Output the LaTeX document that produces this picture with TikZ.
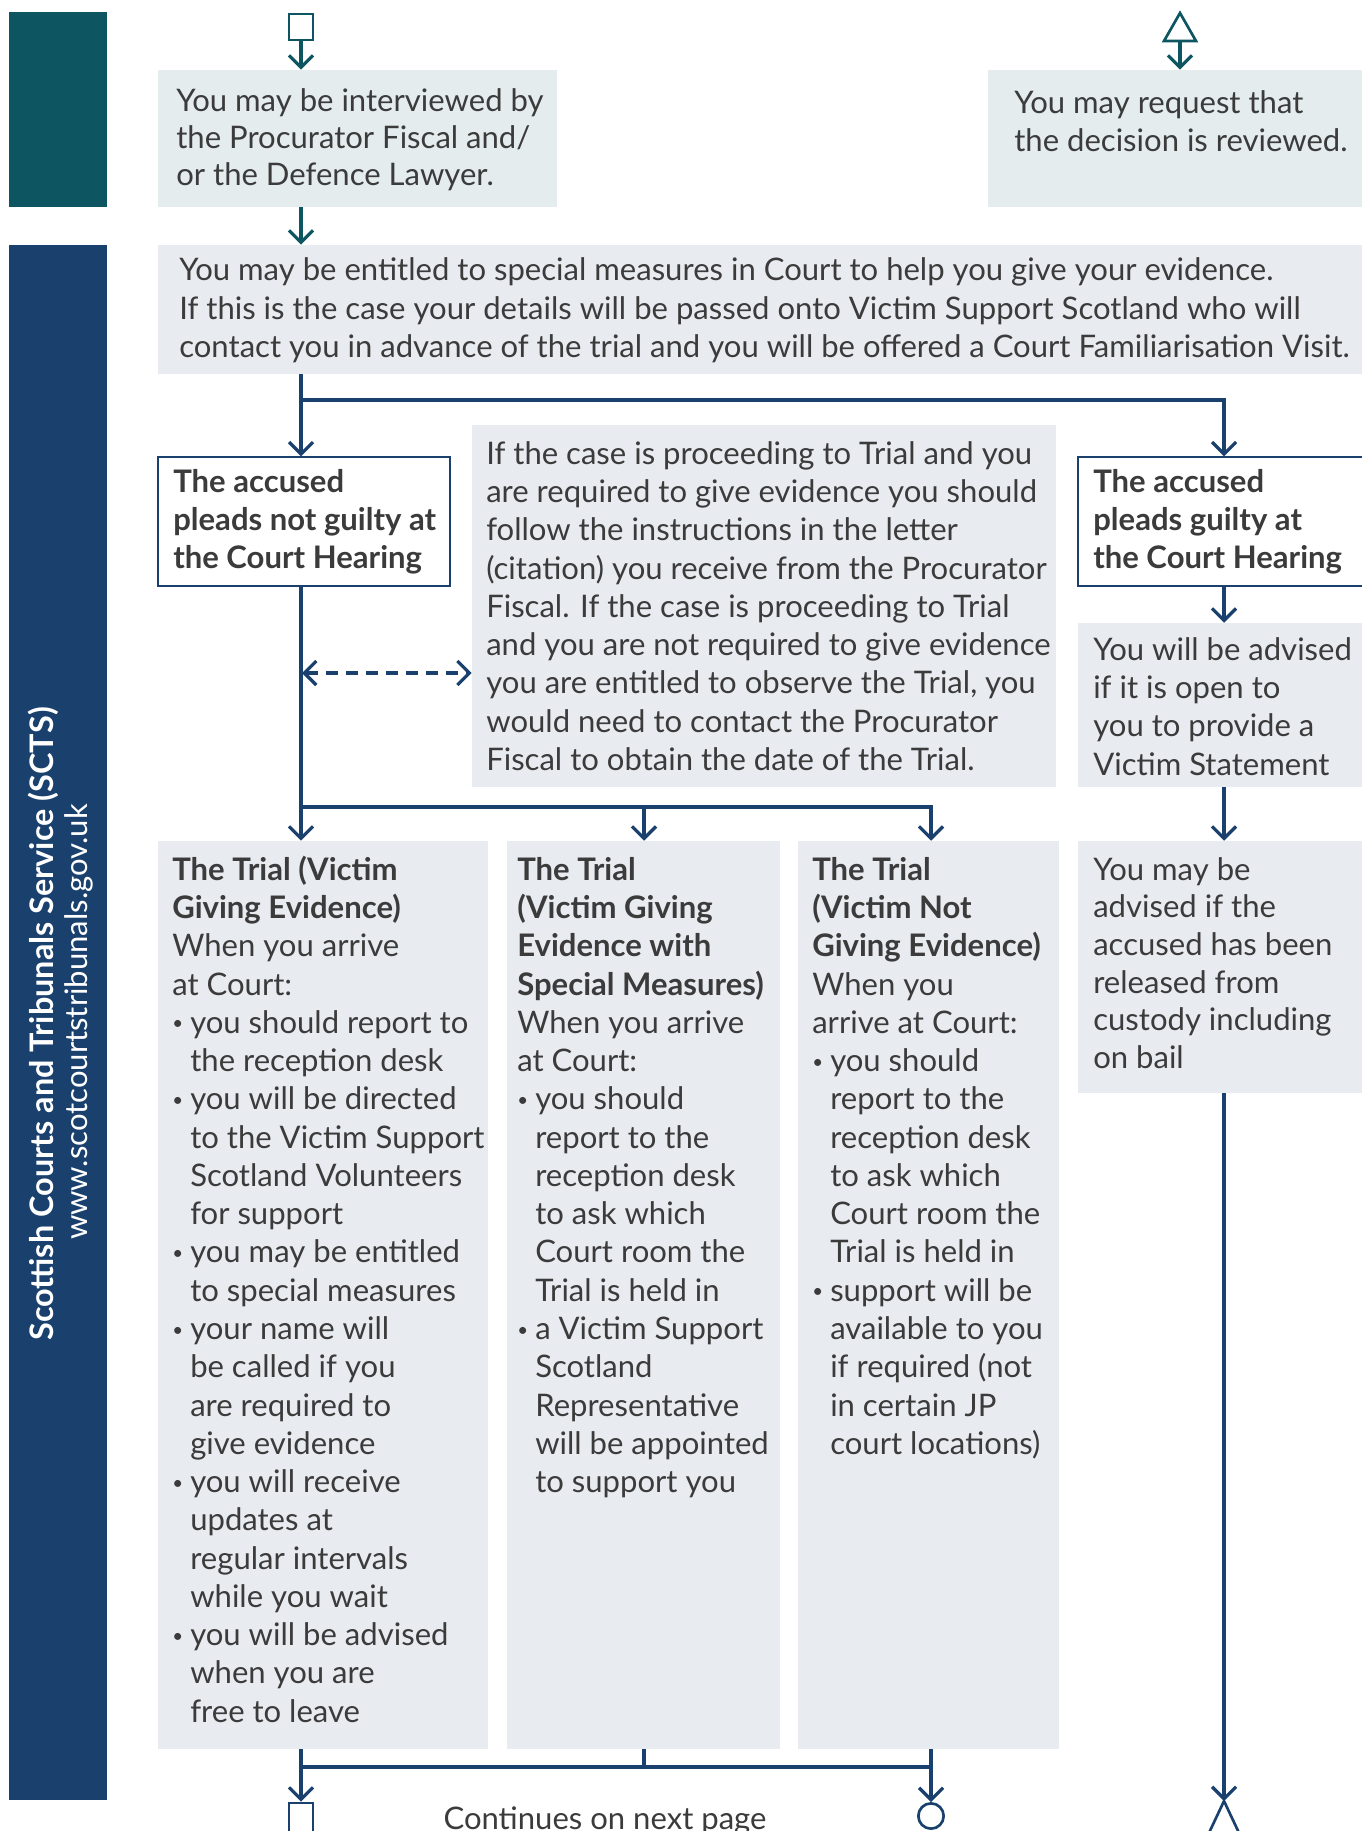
\documentclass[tikz,border=0pt]{standalone}
\usepackage{fontspec}
\setmainfont{Lato}
\usetikzlibrary{arrows.meta,fit}
\definecolor{sctsnavy}{HTML}{1A416E}
\definecolor{sctsteal}{HTML}{0E5562}
\definecolor{tealbox}{HTML}{E4ECEE}
\definecolor{greybox}{HTML}{E8EBF0}
\definecolor{txtc}{HTML}{3B3B3B}
\newcommand\bodyfont{\fontsize{23.3}{28.7}\selectfont}
\newcommand\sstrut{\rule{0pt}{21pt}}
\newcommand\sbul{\makebox[13.5pt][l]{\raisebox{2.6pt}{\fontsize{14}{14}\selectfont •}}}
\newcommand\sind{\hspace*{13.5pt}}
\tikzset{
  boxfill/.style={fill=#1, inner sep=0pt, draw=none},
  borderbox/.style={fill=white, draw=sctsnavy, line width=1.1pt, inner sep=0pt},
  txt/.style={anchor=north west, inner sep=0pt, align=left, font=\bodyfont, text=txtc},
  arr/.style={draw=sctsnavy, line width=2.4pt, -{Straight Barb[length=9pt,width=18pt]}},
  tarr/.style={draw=sctsteal, line width=2.4pt, -{Straight Barb[length=9pt,width=18pt]}},
  plainline/.style={draw=sctsnavy, line width=2.4pt},
  dasharr/.style={draw=sctsnavy, line width=2.4pt, dash pattern=on 9pt off 6pt,
    {Straight Barb[length=9pt,width=18pt]}-{Straight Barb[length=9pt,width=18pt]}},
}
\begin{document}
\begin{tikzpicture}[x=0.75pt,y=-0.75pt]
\useasboundingbox (0,0) rectangle (1362,1831);
% side bars
\node[boxfill=sctsteal, fit={(9,12)(107,207)}] (tealbar) {};
\node[boxfill=sctsnavy, fit={(9,245)(107,1800)}] (navybar) {};
\node[rotate=90, anchor=base, font=\bfseries\fontsize{24.3}{28}\selectfont, text=white] (title) at (53,1024) {Scottish Courts and Tribunals Service (SCTS)};
\node[rotate=90, anchor=base, font=\bodyfont, text=white] (url) at (87,1022) {www.scotcourtstribunals.gov.uk};
% column coordinates
\coordinate (cL) at (301,0);
\coordinate (cM) at (644,0);
\coordinate (cR) at (931,0);
\coordinate (cG) at (1224,0);
\coordinate (cT) at (1180,0);
% boxes
\node[boxfill=tealbox, fit={(158,70)(557,207)}] (box1) {};
\node[boxfill=tealbox, fit={(988,70)(1366,207)}] (box2) {};
\node[boxfill=greybox, fit={(158,245)(1366,374)}] (big) {};
\node[borderbox, fit={(158,457)(450,586)}] (ng) {};
\node[boxfill=greybox, fit={(472,425)(1056,787)}] (mid) {};
\node[borderbox, fit={(1078,457)(1372,586)}] (g) {};
\node[boxfill=greybox, fit={(1078,623)(1366,787)}] (adv) {};
\node[boxfill=greybox, fit={(1078,841)(1366,1093)}] (bail) {};
\node[boxfill=greybox, fit={(158,841)(488,1749)}] (t1) {};
\node[boxfill=greybox, fit={(507,841)(780,1749)}] (t2) {};
\node[boxfill=greybox, fit={(798,841)(1059,1749)}] (t3) {};
% texts
\node[txt, font=\fontsize{23.3}{27.75}\selectfont] (box1t) at (176,83) {\sstrut You may be interviewed by\\the Procurator Fiscal and/\\or the Defence Lawyer.};
\node[txt, font=\fontsize{23.3}{28}\selectfont] (box2t) at (1014,85.5) {\sstrut You may request that\\the decision is reviewed.};
\node[txt] (bigt) at (179,252.5) {\sstrut You may be entitled to special measures in Court to help you give your evidence.\\If this is the case your details will be passed onto Victim Support Scotland who will\\contact you in advance of the trial and you will be offered a Court Familiarisation Visit.};
\node[txt, font=\bfseries\bodyfont] (ngt) at (173,464) {\sstrut The accused\\pleads not guilty at\\the Court Hearing};
\node[txt] (midt) at (486,436) {\sstrut If the case is proceeding to Trial and you\\are required to give evidence you should\\follow the instructions in the letter\\(citation) you receive from the Procurator\\Fiscal. If the case is proceeding to Trial\\and you are not required to give evidence\\you are entitled to observe the Trial, you\\would need to contact the Procurator\\Fiscal to obtain the date of the Trial.};
\node[txt, font=\bfseries\bodyfont] (gt) at (1093,464) {\sstrut The accused\\pleads guilty at\\the Court Hearing};
\node[txt] (advt) at (1093,632) {\sstrut You will be advised\\if it is open to\\you to provide a\\Victim Statement};
\node[txt, font=\fontsize{23.3}{28.2}\selectfont] (bailt) at (1093,852) {\sstrut You may be\\advised if the\\accused has been\\released from\\custody including\\on bail};
\node[txt] (t1t) at (172,852) {\sstrut\textbf{The Trial (Victim}\\\textbf{Giving Evidence)}\\When you arrive\\at Court:\\\sbul you should report to\\\sind the reception desk\\\sbul you will be directed\\\sind to the Victim Support\\\sind Scotland Volunteers\\\sind for support\\\sbul you may be entitled\\\sind to special measures\\\sbul your name will\\\sind be called if you\\\sind are required to\\\sind give evidence\\\sbul you will receive\\\sind updates at\\\sind regular intervals\\\sind while you wait\\\sbul you will be advised\\\sind when you are\\\sind free to leave};
\node[txt] (t2t) at (517,852) {\sstrut\textbf{The Trial}\\\textbf{(Victim Giving}\\\textbf{Evidence with}\\\textbf{Special Measures)}\\When you arrive\\at Court:\\\sbul you should\\\sind report to the\\\sind reception desk\\\sind to ask which\\\sind Court room the\\\sind Trial is held in\\\sbul a Victim Support\\\sind Scotland\\\sind Representative\\\sind will be appointed\\\sind to support you};
\node[txt] (t3t) at (812,852) {\sstrut\textbf{The Trial}\\\textbf{(Victim Not}\\\textbf{Giving Evidence)}\\When you\\arrive at Court:\\\sbul you should\\\sind report to the\\\sind reception desk\\\sind to ask which\\\sind Court room the\\\sind Trial is held in\\\sbul support will be\\\sind available to you\\\sind if required (not\\\sind in certain JP\\\sind court locations)};
% top symbols
\node[draw=sctsteal, fill=white, line width=2pt, inner sep=0pt, fit={(289,14)(313,40)}] (sqtop) {};
\coordinate (tritop) at (1180,41);
\draw[draw=sctsteal, fill=white, line width=2pt, line join=miter] (1164,41) -- (1180,13) -- (1196,41) -- cycle;
% bottom symbols
\node[draw=sctsnavy, fill=white, line width=2pt, inner sep=0pt, fit={(289,1803)(313,1840)}] (sqbot) {};
\node[draw=sctsnavy, fill=white, line width=2pt, circle, minimum size=19pt, inner sep=0pt] (circ) at (931,1816) {};
\coordinate (tribot) at (1224,1801);
\draw[draw=sctsnavy, fill=white, line width=2pt, line join=miter] (1208,1835) -- (1224,1801) -- (1240,1835) -- cycle;
\node[anchor=base, font=\bodyfont, text=txtc] (cont) at (605,1829) {Continues on next page};
% connectors
\draw[tarr] (sqtop.south) -- (box1.north -| sqtop.south);
\draw[tarr] (tritop) -- (box2.north -| tritop);
\draw[tarr] (box1.south -| cL) -- (big.north -| cL);
\draw[arr] (big.south -| cL) -- (ng.north -| cL);
\coordinate (j1) at (301,400);
\draw[arr] (j1) -| (g.north -| cG);
\draw[arr] (ng.south -| cL) -- (t1.north -| cL);
\coordinate (j2) at (301,807);
\coordinate (j2m) at (644,807);
\draw[arr] (j2) -| (t3.north -| cR);
\draw[arr] (j2m) -- (t2.north -| cM);
\coordinate (dl) at (302,673);
\draw[dasharr] (dl) -- (mid.west |- dl);
\draw[arr] (g.south -| cG) -- (adv.north -| cG);
\draw[arr] (adv.south -| cG) -- (bail.north -| cG);
\draw[arr] (bail.south -| cG) -- (tribot);
\draw[arr] (t1.south -| cL) -- (sqbot.north);
\coordinate (j3) at (301,1767);
\coordinate (j3m) at (644,1767);
\draw[plainline] (t2.south -| cM) -- (j3m);
\draw[plainline] (j3) -- (j3 -| cR);
\draw[arr] (t3.south -| cR) -- (circ.north);
\end{tikzpicture}
\end{document}
